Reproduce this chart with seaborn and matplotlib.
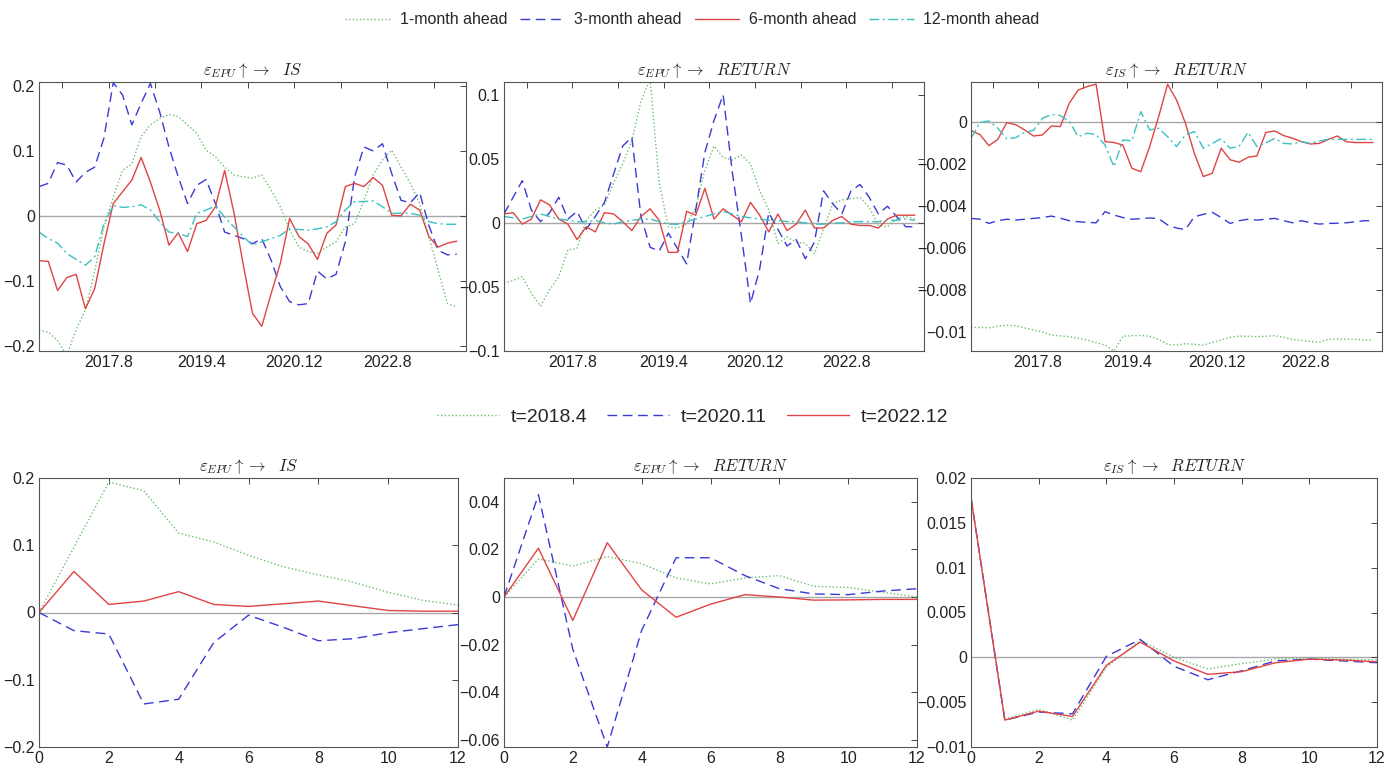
import numpy as np
import pandas as pd
import matplotlib
matplotlib.use("Agg")
import matplotlib.pyplot as plt
import seaborn as sns

# --- time axis (every 2nd month from 2016.5) ---
MONTH_IDX = list(range(0, 91, 2))
DATE_TICKS = [5, 15, 25, 35, 45, 55, 65, 75, 85]
DATE_LABELS = ["", "2017.8", "", "2019.4", "", "2020.12", "", "2022.8", ""]
HORIZON = list(range(13))

# --- top row: time-varying responses, 1/3/6/12-month ahead ---
epu_is_1m = [-0.176, -0.179, -0.192, -0.215, -0.175, -0.145, -0.085, -0.017, 0.029, 0.070,
             0.080, 0.122, 0.140, 0.150, 0.156, 0.153, 0.140, 0.127, 0.101, 0.091,
             0.075, 0.063, 0.060, 0.058, 0.063, 0.040, 0.014, -0.022, -0.048, -0.055,
             -0.058, -0.048, -0.040, -0.017, -0.012, 0.024, 0.063, 0.086, 0.101, 0.075,
             0.050, 0.019, -0.032, -0.084, -0.135, -0.140]
epu_is_3m = [0.045, 0.050, 0.082, 0.078, 0.052, 0.067, 0.075, 0.120, 0.205, 0.186,
             0.140, 0.173, 0.204, 0.160, 0.106, 0.060, 0.019, 0.047, 0.056, 0.019,
             -0.025, -0.030, -0.035, -0.043, -0.035, -0.068, -0.109, -0.132, -0.137, -0.135,
             -0.085, -0.097, -0.090, -0.040, 0.060, 0.106, 0.100, 0.111, 0.065, 0.024,
             0.020, 0.036, -0.015, -0.053, -0.060, -0.059]
epu_is_6m = [-0.069, -0.070, -0.115, -0.095, -0.090, -0.143, -0.112, -0.043, 0.019, 0.037,
             0.055, 0.090, 0.052, 0.009, -0.045, -0.026, -0.055, -0.012, -0.007, 0.014,
             0.070, 0.005, -0.075, -0.150, -0.170, -0.120, -0.073, -0.004, -0.032, -0.043,
             -0.067, -0.027, -0.014, 0.045, 0.050, 0.045, 0.059, 0.047, 0.001, 0.000,
             0.018, 0.009, -0.032, -0.048, -0.042, -0.039]
epu_is_12m = [-0.025, -0.035, -0.042, -0.058, -0.067, -0.076, -0.063, -0.012, 0.016, 0.013,
              0.014, 0.017, 0.009, -0.009, -0.025, -0.027, -0.032, 0.004, 0.009, 0.015,
              -0.002, -0.017, -0.032, -0.045, -0.040, -0.035, -0.030, -0.020, -0.021, -0.022,
              -0.020, -0.017, -0.009, 0.009, 0.022, 0.022, 0.023, 0.014, 0.004, 0.004,
              0.004, 0.001, -0.009, -0.012, -0.013, -0.013]

epu_ret_1m = [-0.047, -0.045, -0.042, -0.055, -0.065, -0.052, -0.042, -0.021, -0.020, 0.002,
              0.010, 0.014, 0.031, 0.046, 0.064, 0.095, 0.112, 0.031, -0.003, -0.004,
              -0.001, 0.012, 0.041, 0.060, 0.051, 0.049, 0.053, 0.046, 0.025, 0.010,
              -0.016, -0.011, -0.015, -0.016, -0.024, -0.005, 0.015, 0.018, 0.019, 0.020,
              0.012, -0.002, -0.003, 0.003, 0.005, 0.003]
epu_ret_3m = [0.007, 0.020, 0.033, 0.010, 0.001, 0.008, 0.020, 0.003, 0.009, -0.005,
              0.005, 0.016, 0.038, 0.060, 0.067, 0.005, -0.019, -0.022, -0.008, -0.020,
              -0.032, 0.010, 0.055, 0.080, 0.100, 0.040, -0.010, -0.063, -0.036, 0.008,
              -0.005, -0.018, -0.013, -0.028, -0.015, 0.025, 0.015, 0.007, 0.025, 0.030,
              0.020, 0.007, 0.013, 0.005, -0.003, -0.003]
epu_ret_6m = [0.007, 0.008, -0.001, 0.003, 0.018, 0.014, 0.003, -0.001, -0.013, -0.003,
              -0.007, 0.008, 0.007, 0.001, -0.006, 0.005, 0.011, 0.002, -0.023, -0.023,
              0.009, 0.006, 0.027, 0.003, 0.011, 0.006, 0.001, 0.016, 0.006, -0.007,
              0.007, -0.006, -0.001, 0.010, -0.004, -0.004, 0.002, 0.005, -0.001, -0.002,
              -0.002, -0.004, 0.003, 0.006, 0.006, 0.006]
epu_ret_12m = [0.005, 0.004, 0.003, 0.005, 0.007, 0.005, 0.003, 0.002, 0.001, 0.001,
               0.002, 0.000, -0.001, 0.001, 0.002, 0.003, 0.003, 0.001, -0.001, -0.001,
               0.001, 0.003, 0.005, 0.007, 0.009, 0.007, 0.005, 0.004, 0.003, 0.002,
               0.002, 0.001, 0.001, 0.000, -0.001, -0.001, 0.000, 0.000, 0.001, 0.001,
               0.001, 0.001, 0.002, 0.002, 0.003, 0.002]

is_ret_1m = [-0.00978, -0.00978, -0.0098, -0.00972, -0.00967, -0.0097, -0.0098, -0.0099, -0.0100, -0.01014,
             -0.01018, -0.01022, -0.0103, -0.01038, -0.0105, -0.01062, -0.0109, -0.0102, -0.01017, -0.01016,
             -0.0102, -0.01035, -0.01058, -0.01062, -0.01055, -0.01058, -0.01062, -0.0105, -0.01038, -0.01025,
             -0.01019, -0.0102, -0.01022, -0.0102, -0.01017, -0.01025, -0.01035, -0.0104, -0.01045, -0.01048,
             -0.01035, -0.01032, -0.01034, -0.01035, -0.01037, -0.01038]
is_ret_3m = [-0.00459, -0.00463, -0.00483, -0.0047, -0.00463, -0.00467, -0.00463, -0.00459, -0.00455, -0.00448,
             -0.00458, -0.0047, -0.00475, -0.00478, -0.0048, -0.00427, -0.00443, -0.00455, -0.00463, -0.0046,
             -0.00457, -0.0046, -0.0049, -0.00505, -0.00512, -0.00451, -0.0044, -0.0043, -0.00455, -0.00483,
             -0.0047, -0.00463, -0.00467, -0.00463, -0.00459, -0.0047, -0.0048, -0.0047, -0.0048, -0.00486,
             -0.00483, -0.00482, -0.0048, -0.00475, -0.0047, -0.0047]
is_ret_6m = [-0.00041, -0.0006, -0.00113, -0.00083, -0.00003, -0.00013, -0.00038, -0.00067, -0.00062, -0.00019,
             -0.00022, 0.00089, 0.00152, 0.00168, 0.0018, -0.00094, -0.00098, -0.0011, -0.0022, -0.00237,
             -0.00117, 0.00025, 0.00179, 0.00105, -0.00006, -0.0015, -0.0026, -0.00244, -0.00125, -0.0018,
             -0.00192, -0.00168, -0.00162, -0.0005, -0.00043, -0.00065, -0.00078, -0.00094, -0.00105, -0.00102,
             -0.00083, -0.00067, -0.00094, -0.00098, -0.00098, -0.00098]
is_ret_12m = [-0.00078, -0.00003, 0.00005, -0.0003, -0.0008, -0.00075, -0.0005, -0.0004, 0.00017, 0.00035,
              0.0003, 0.00002, -0.0007, -0.00054, -0.0006, -0.0011, -0.00213, -0.00086, -0.0009, 0.00049,
              -0.00038, -0.0003, -0.0007, -0.00117, -0.00062, -0.00046, -0.00125, -0.00102, -0.0008, -0.00125,
              -0.00117, -0.0005, -0.00117, -0.001, -0.00078, -0.00102, -0.00105, -0.00094, -0.00102, -0.0009,
              -0.00083, -0.00083, -0.00083, -0.00083, -0.00083, -0.00083]

# --- bottom row: impulse responses at three dates ---
irf_epu_is_2018 = [0, 0.097, 0.194, 0.181, 0.118, 0.105, 0.085, 0.068, 0.056, 0.045, 0.030, 0.018, 0.011]
irf_epu_is_2020 = [0, -0.027, -0.032, -0.136, -0.129, -0.045, -0.004, -0.022, -0.042, -0.039, -0.030, -0.024, -0.018]
irf_epu_is_2022 = [0, 0.061, 0.012, 0.017, 0.031, 0.012, 0.009, 0.013, 0.017, 0.010, 0.003, 0.002, 0.002]

irf_epu_ret_2018 = [0, 0.016, 0.013, 0.017, 0.014, 0.008, 0.0055, 0.008, 0.009, 0.0045, 0.004, 0.002, 0.000]
irf_epu_ret_2020 = [0, 0.043, -0.022, -0.063, -0.014, 0.0165, 0.0165, 0.009, 0.0035, 0.0013, 0.001, 0.0025, 0.0035]
irf_epu_ret_2022 = [0, 0.0205, -0.0098, 0.0228, 0.003, -0.0085, -0.003, 0.001, 0.000, -0.0013, -0.0012, -0.001, -0.001]

irf_is_ret_2018 = [0.0178, -0.0069, -0.0058, -0.0070, -0.0011, 0.0019, 0.0000, -0.0013, -0.0007, -0.0002, -0.0001, -0.0002, -0.0003]
irf_is_ret_2020 = [0.0178, -0.0070, -0.0061, -0.0063, 0.0001, 0.0020, -0.0010, -0.0025, -0.0015, -0.0004, -0.0002, -0.0004, -0.0006]
irf_is_ret_2022 = [0.0178, -0.0070, -0.0060, -0.0066, -0.0009, 0.0017, -0.0004, -0.0019, -0.0016, -0.0006, -0.0002, -0.0003, -0.0005]

TOP_LABELS = ["1-month ahead", "3-month ahead", "6-month ahead", "12-month ahead"]
BOTTOM_LABELS = ["t=2018.4", "t=2020.11", "t=2022.12"]

T_EPU_IS = r"$\varepsilon_{EPU}\uparrow\rightarrow\ \ IS$"
T_EPU_RET = r"$\varepsilon_{EPU}\uparrow\rightarrow\ \ RETURN$"
T_IS_RET = r"$\varepsilon_{IS}\uparrow\rightarrow\ \ RETURN$"

# --- styles ---
GREEN, BLUE, RED, CYAN = "#6cbf6c", "#3a3ad6", "#e04444", "#3cc0c0"
STYLES = [
    dict(color=GREEN, linestyle=(0, (1, 1.6))),
    dict(color=BLUE, linestyle=(0, (7, 4))),
    dict(color=RED, linestyle="-"),
    dict(color=CYAN, linestyle=(0, (7, 2.5, 1.5, 2.5))),
]

sns.set_style("white")
plt.rcParams["font.family"] = ["Liberation Sans", "DejaVu Sans"]
plt.rcParams["mathtext.fontset"] = "cm"

fig = plt.figure(figsize=(13.85, 7.69), dpi=100)
W, H = 1385, 769


def add_ax(x0, x1, ytop, ybot):
    return fig.add_axes([x0 / W, 1 - ybot / H, (x1 - x0) / W, (ybot - ytop) / H])


def ytick_text(v):
    s = "{:g}".format(v)
    return s.replace("-", "\u2212")


def style_ax(ax, title, yticks, ylim):
    ax.axhline(0, color="#a8a8a8", lw=1.0, zorder=0)
    ax.set_ylim(*ylim)
    ax.set_yticks(yticks)
    ax.set_yticklabels([ytick_text(v) for v in yticks])
    ax.set_title(title, fontsize=12, pad=5, color="#222222")
    ax.set_xlabel("")
    ax.set_ylabel("")
    ax.tick_params(direction="in", top=True, right=True, length=4, width=0.7,
                   colors="#444444", labelcolor="#222222", labelsize=11.5, pad=3)
    for sp in ax.spines.values():
        sp.set_color("#555555")
        sp.set_linewidth(0.8)
    if ax.get_legend() is not None:
        ax.get_legend().remove()


top_panels = [
    (T_EPU_IS, [epu_is_1m, epu_is_3m, epu_is_6m, epu_is_12m],
     [-0.2, -0.1, 0, 0.1, 0.2], (-0.208, 0.206), (39, 466)),
    (T_EPU_RET, [epu_ret_1m, epu_ret_3m, epu_ret_6m, epu_ret_12m],
     [-0.1, -0.05, 0, 0.05, 0.1], (-0.1, 0.11), (504, 924)),
    (T_IS_RET, [is_ret_1m, is_ret_3m, is_ret_6m, is_ret_12m],
     [-0.01, -0.008, -0.006, -0.004, -0.002, 0], (-0.0109, 0.0019), (971, 1382)),
]

top_handles = []
for title, series, yticks, ylim, (x0, x1) in top_panels:
    ax = add_ax(x0, x1, 82, 351)
    for vals, st, lab in zip(series, STYLES, TOP_LABELS):
        sns.lineplot(x=MONTH_IDX, y=vals, ax=ax, lw=1.0, label=lab,
                     estimator=None, errorbar=None, **st)
    ax.set_xlim(0, 92)
    ax.set_xticks(DATE_TICKS)
    ax.set_xticklabels(DATE_LABELS)
    if not top_handles:
        top_handles = ax.get_legend_handles_labels()
    style_ax(ax, title, yticks, ylim)

bottom_panels = [
    (T_EPU_IS, [irf_epu_is_2018, irf_epu_is_2020, irf_epu_is_2022],
     [-0.2, -0.1, 0, 0.1, 0.2], (-0.2, 0.2), (39, 458)),
    (T_EPU_RET, [irf_epu_ret_2018, irf_epu_ret_2020, irf_epu_ret_2022],
     [-0.06, -0.04, -0.02, 0, 0.02, 0.04], (-0.063, 0.05), (504, 917)),
    (T_IS_RET, [irf_is_ret_2018, irf_is_ret_2020, irf_is_ret_2022],
     [-0.01, -0.005, 0, 0.005, 0.01, 0.015, 0.02], (-0.01, 0.02), (971, 1377)),
]

bottom_handles = []
for title, series, yticks, ylim, (x0, x1) in bottom_panels:
    ax = add_ax(x0, x1, 478, 747)
    for vals, st, lab in zip(series, STYLES[:3], BOTTOM_LABELS):
        sns.lineplot(x=HORIZON, y=vals, ax=ax, lw=1.0, label=lab,
                     estimator=None, errorbar=None, **st)
    ax.set_xlim(0, 12)
    ax.set_xticks(range(0, 13, 2))
    if not bottom_handles:
        bottom_handles = ax.get_legend_handles_labels()
    style_ax(ax, title, yticks, ylim)

fig.legend(*top_handles, loc="center", bbox_to_anchor=(0.5, 1 - 20 / H), ncol=4,
           frameon=False, fontsize=11.5, handlelength=2.8, columnspacing=0.8,
           handletextpad=0.6)
fig.legend(*bottom_handles, loc="center", bbox_to_anchor=(0.5, 1 - 417 / H), ncol=3,
           frameon=False, fontsize=14, handlelength=3.2, columnspacing=1.0,
           handletextpad=0.6)

fig.savefig("out.png", dpi=100)
